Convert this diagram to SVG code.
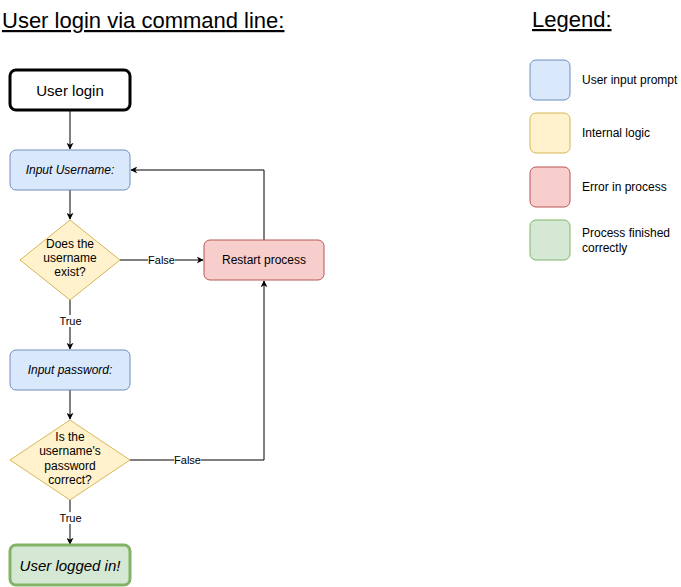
<svg xmlns="http://www.w3.org/2000/svg" width="681" height="587" viewBox="0 0 681 587">
<defs>
<style>
text{font-family:"Liberation Sans",Arial,sans-serif;fill:#000}
.t12{font-size:12px;text-anchor:middle}
.it{font-style:italic}
.lbl{font-size:11px;text-anchor:middle}
.leg{font-size:12px}
.blue{fill:#dae8fc;stroke:#6c8ebf;stroke-width:1}
.yel{fill:#fff2cc;stroke:#d6b656;stroke-width:1}
.red{fill:#f8cecc;stroke:#b85450;stroke-width:1}
.grn{fill:#d5e8d4;stroke:#82b366;stroke-width:1}
.edge{fill:none;stroke:#000;stroke-width:1}
.lblbg{fill:#fff}
</style>
<marker id="arr" viewBox="0 0 10 10" refX="9" refY="5" markerWidth="7" markerHeight="7" markerUnits="userSpaceOnUse" orient="auto">
<path d="M0,0 L10,5 L0,10 L3,5 Z" fill="#000"/>
</marker>
</defs>
<rect width="681" height="587" fill="#fff"/>
<g id="title">
<text x="2" y="28" font-size="22" text-decoration="underline">User login via command line:</text>
</g>
<g id="legend-title">
<text x="532" y="27" font-size="22" text-decoration="underline">Legend:</text>
</g>
<g id="connectors">
<path class="edge" d="M70,110 V149" marker-end="url(#arr)"/>
<path class="edge" d="M70,190 V219" marker-end="url(#arr)"/>
<path class="edge" d="M120,260 H203" marker-end="url(#arr)"/>
<path class="edge" d="M264,240 V170 H131" marker-end="url(#arr)"/>
<path class="edge" d="M70,300 V349" marker-end="url(#arr)"/>
<path class="edge" d="M70,390 V419" marker-end="url(#arr)"/>
<path class="edge" d="M130,460 H264 V281" marker-end="url(#arr)"/>
<path class="edge" d="M70,500 V544" marker-end="url(#arr)"/>
<rect class="lblbg" x="148" y="254" width="27" height="12"/>
<text class="lbl" x="161.5" y="264">False</text>
<rect class="lblbg" x="59" y="315" width="23" height="12"/>
<text class="lbl" x="70.5" y="325">True</text>
<rect class="lblbg" x="174" y="454" width="27" height="12"/>
<text class="lbl" x="187.5" y="464">False</text>
<rect class="lblbg" x="59" y="512" width="23" height="12"/>
<text class="lbl" x="70.5" y="522">True</text>
</g>
<g id="user-login">
<rect x="10" y="70" width="120" height="40" rx="6" fill="#fff" stroke="#000" stroke-width="3"/>
<text x="70" y="95.5" font-size="15" text-anchor="middle">User login</text>
</g>
<g id="input-username">
<rect class="blue" x="10" y="150" width="120" height="40" rx="6"/>
<text class="t12 it" x="70" y="174">Input Username:</text>
</g>
<g id="username-exists">
<polygon class="yel" points="70,220 120,260 70,300 20,260"/>
<text class="t12" x="70" y="248">Does the</text>
<text class="t12" x="70" y="262">username</text>
<text class="t12" x="70" y="276">exist?</text>
</g>
<g id="restart-process">
<rect class="red" x="204" y="240" width="120" height="40" rx="6"/>
<text class="t12" x="264" y="264">Restart process</text>
</g>
<g id="input-password">
<rect class="blue" x="10" y="350" width="120" height="40" rx="6"/>
<text class="t12 it" x="70" y="374">Input password:</text>
</g>
<g id="password-correct">
<polygon class="yel" points="70,420 130,460 70,500 10,460"/>
<text class="t12" x="70" y="441">Is the</text>
<text class="t12" x="70" y="455">username's</text>
<text class="t12" x="70" y="470">password</text>
<text class="t12" x="70" y="484">correct?</text>
</g>
<g id="user-logged-in">
<rect x="10" y="545" width="120" height="40" rx="6" fill="#d5e8d4" stroke="#82b366" stroke-width="3"/>
<text x="70" y="571" font-size="15" font-style="italic" text-anchor="middle">User logged in!</text>
</g>
<g id="legend-user-input">
<rect class="blue" x="530" y="60" width="40" height="40" rx="6"/>
<text class="leg" x="582" y="84">User input prompt</text>
</g>
<g id="legend-internal-logic">
<rect class="yel" x="530" y="113" width="40" height="40" rx="6"/>
<text class="leg" x="582" y="137">Internal logic</text>
</g>
<g id="legend-error">
<rect class="red" x="530" y="167" width="40" height="40" rx="6"/>
<text class="leg" x="582" y="191">Error in process</text>
</g>
<g id="legend-finished">
<rect class="grn" x="530" y="220" width="40" height="40" rx="6"/>
<text class="leg" x="582" y="237">Process finished</text>
<text class="leg" x="582" y="252">correctly</text>
</g>
</svg>
